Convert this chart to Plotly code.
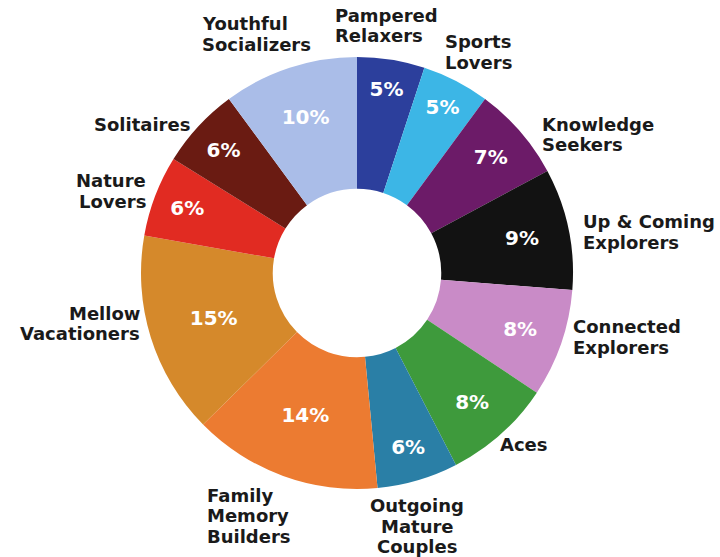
import math
import plotly.graph_objects as go

# ---- data ----
segments = [
    "Pampered<br>Relaxers", "Sports<br>Lovers", "Knowledge<br>Seekers",
    "Up & Coming<br>Explorers", "Connected<br>Explorers", "Aces",
    "Outgoing<br>Mature<br>Couples", "Family<br>Memory<br>Builders",
    "Mellow<br>Vacationers", "Nature<br>Lovers", "Solitaires",
    "Youthful<br>Socializers",
]
shares = [5, 5, 7, 9, 8, 8, 6, 14, 15, 6, 6, 10]
colors = [
    "#2c3f9c", "#3cb6e6", "#6c1b68", "#121212", "#c98bc7", "#3e9a3c",
    "#2a7fa6", "#ec7b31", "#d5892b", "#e12b22", "#6a1b12", "#aabde8",
]

# ---- layout / style constants ----
W, H = 720, 557
CX, CY, R = 357, 273, 216
FONT = "DejaVu Sans"
LABEL_SIZE = 18
LINE_H = 20.5
CHAR_W = 0.66 * LABEL_SIZE
# small hand adjustments (px) of label placement, as in the original layout
label_nudge_x = [-20, 0, 22, 0, 0, -4, -18, -10, 2, 4, -12, 0]
label_nudge_y = [0, 4, 12, 6, -11, 0, 2, -4, -18, 0, 8, 0]

fig = go.Figure(go.Pie(
    labels=[s.replace("<br>", " ") for s in segments],
    values=shares,
    sort=False,
    direction="clockwise",
    rotation=0,
    hole=0.39,
    marker=dict(colors=colors, line=dict(width=0)),
    texttemplate="%{value}%",
    textposition="inside",
    insidetextorientation="horizontal",
    textfont=dict(family=FONT, size=20, color="white", weight="bold"),
    showlegend=False,
    hoverinfo="label+value",
    domain=dict(x=[(CX - R) / W, (CX + R) / W],
                y=[1 - (CY + R) / H, 1 - (CY - R) / H]),
))

# outside labels placed at each slice's mid-angle (one annotation per line)
total = sum(shares)
cum = 0.0
annotations = []
rl = R + 14
for k, (name, v) in enumerate(zip(segments, shares)):
    mid = (cum + v / 2) / total * 2 * math.pi
    cum += v
    s, c = math.sin(mid), math.cos(mid)
    px = CX + rl * s + label_nudge_x[k]
    py = CY - rl * c + label_nudge_y[k]
    lines = name.split("<br>")
    w = max(len(l) for l in lines) * CHAR_W
    h = len(lines) * LINE_H
    cx = px + (w / 2) * s
    if c > 0.75:
        top = py - h
    elif c < -0.8:
        top = py
    else:
        top = py - h / 2
    if s < -0.5:
        align, ax = "right", cx + w / 2
    elif c < -0.9 and abs(s) < 0.3:
        align, ax = "center", cx
    else:
        align, ax = "left", cx - w / 2
    for i, line in enumerate(lines):
        ly = top + (i + 0.5) * LINE_H
        annotations.append(dict(
            x=ax / W, y=1 - ly / H, xref="paper", yref="paper",
            xanchor=align, yanchor="middle",
            text=line, showarrow=False,
            font=dict(family=FONT, size=LABEL_SIZE, color="#1a1a1a",
                      weight="bold"),
        ))

fig.update_layout(
    width=W, height=H,
    margin=dict(l=0, r=0, t=0, b=0),
    paper_bgcolor="white", plot_bgcolor="white",
    annotations=annotations,
)

fig.write_html("out.html")
